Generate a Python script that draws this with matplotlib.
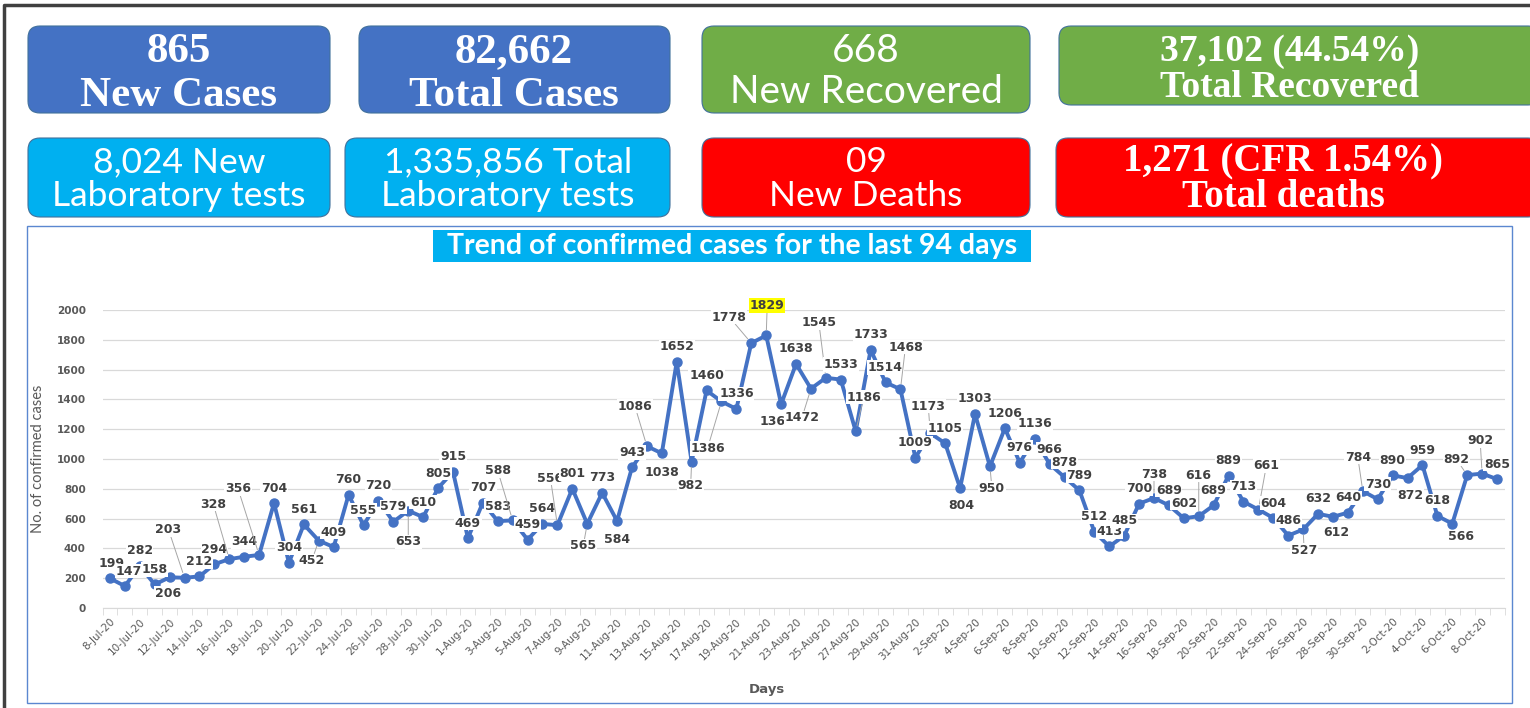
import matplotlib.pyplot as plt
from matplotlib.patches import FancyBboxPatch, Rectangle
import numpy as np
import pandas as pd

# daily new confirmed cases, 8-Jul-20 .. 9-Oct-20
new_cases = [199, 147, 282, 158, 206, 203, 212, 294, 328, 344,
             356, 704, 304, 561, 452, 409, 760, 555, 720, 579,
             653, 610, 805, 915, 469, 707, 583, 588, 459, 564,
             556, 801, 565, 773, 584, 943, 1086, 1038, 1652, 982,
             1460, 1386, 1336, 1778, 1829, 1368, 1638, 1472, 1545, 1533,
             1186, 1733, 1514, 1468, 1009, 1173, 1105, 804, 1303, 950,
             1206, 976, 1136, 966, 878, 789, 512, 413, 485, 700,
             738, 689, 602, 616, 689, 889, 713, 661, 604, 486,
             527, 632, 612, 640, 784, 730, 890, 872, 959, 618,
             566, 892, 902, 865]

days = pd.date_range("2020-07-08", periods=len(new_cases))
date_labels = [f"{d.day}-{d:%b}-20" for d in days]

yticks = list(range(0, 2001, 200))

# summary boxes: first line, second line
box_line1 = ["865", "82,662", "668", "37,102 (44.54%)",
             "8,024 New", "1,335,856 Total", "09", "1,271 (CFR 1.54%)"]
box_line2 = ["New Cases", "Total Cases", "New Recovered", "Total Recovered",
             "Laboratory tests", "Laboratory tests", "New Deaths", "Total deaths"]

title = "Trend of confirmed cases for the last 94 days"

# ---- layout / style (pixels of the 1530x708 picture) ----
W, H = 1530, 708
BLUE, GREEN, CYAN, RED = "#4472C4", "#70AD47", "#00B0F0", "#FF0000"
SERIF = "Liberation Serif"
SANS = "Lato"

boxes = [  # x0, y0, x1, y1, colour, font, bold, size, text-x, baseline1, baseline2
    (28, 26, 330, 113, BLUE, SERIF, True, 31, 179, 62, 106),
    (359, 26, 670, 113, BLUE, SERIF, True, 31, 514, 62, 106),
    (702, 26, 1030, 113, GREEN, SANS, False, 28, 866, 62, 103),
    (1059, 26, 1540, 105, GREEN, SERIF, True, 27, 1290, 61, 97),
    (28, 138, 330, 217, CYAN, SANS, False, 25.5, 179, 172, 206),
    (345, 138, 670, 217, CYAN, SANS, False, 25.5, 508, 172, 206),
    (702, 138, 1030, 217, RED, SANS, False, 25.5, 866, 172, 206),
    (1056, 138, 1540, 217, RED, SERIF, True, 28, 1283, 171, 207),
]

# data label offsets (dx, dy) in pixels, +dy = downwards; default is above
label_offsets = {
    0: (2, -15), 1: (4, -15),
    4: (-2, 16), 5: (-16, -48), 8: (-16, -55), 10: (-21, -66),
    14: (-7, 20), 20: (0, 31), 27: (-15, -50), 30: (-7, -47),
    32: (-4, 22), 34: (0, 19), 36: (-12, -40), 37: (0, 19),
    39: (-1, 24), 41: (-14, 47), 43: (-22, -26), 44: (1, -30),
    45: (-4, 17), 47: (-9, 29), 48: (-7, -55), 50: (8, -34),
    53: (5, -42), 55: (-2, -27), 57: (1, 17), 59: (2, 22),
    70: (0, -24), 73: (0, -41), 77: (8, -44), 80: (1, 21),
    82: (3, 16), 84: (-5, -34), 87: (3, 17), 90: (9, 13),
    91: (-11, -16), 92: (-2, -33),
}
leaders = {5, 8, 10, 14, 20, 27, 30, 32, 36, 39, 41, 43, 44, 47, 48,
           50, 53, 55, 59, 70, 73, 77, 80, 84, 91, 92}

fig = plt.figure(figsize=(W / 100, H / 100), dpi=100)

# background layer in pixel coordinates
bg = fig.add_axes([0, 0, 1, 1])
bg.set_xlim(0, W)
bg.set_ylim(H, 0)
bg.axis("off")

# outer frame lines
bg.plot([4, 4, W], [H, 5, 5], color="#404040", lw=2.5, solid_capstyle="butt")

for (x0, y0, x1, y1, col, font, bold, size, tx, b1, b2), l1, l2 in zip(boxes, box_line1, box_line2):
    bg.add_patch(FancyBboxPatch((x0, y0), x1 - x0, y1 - y0,
                                boxstyle="round,pad=0,rounding_size=12",
                                facecolor=col, edgecolor="#41719C", lw=0.8))
    weight = "bold" if bold else "normal"
    bg.text(tx, b1, l1, color="white", fontsize=size, family=font,
            fontweight=weight, ha="center", va="baseline")
    bg.text(tx, b2, l2, color="white", fontsize=size, family=font,
            fontweight=weight, ha="center", va="baseline")

# chart frame and title banner
bg.add_patch(Rectangle((27, 226), 1485, 477, facecolor="white",
                       edgecolor="#5B87D0", lw=1))
bg.add_patch(Rectangle((433, 230), 598, 32, facecolor=CYAN, edgecolor="none"))
bg.text(732, 246, title, color="white", fontsize=20.5, family=SANS,
        fontweight="bold", ha="center", va="center")

# line chart
ax = fig.add_axes([102.5 / W, 100 / H, 1402 / W, 298 / H])
ax.set_facecolor("none")
x = np.arange(len(new_cases))
ax.plot(x, new_cases, color=BLUE, lw=2.8, marker="o", ms=6.5, zorder=3)

ax.set_xlim(-0.5, len(new_cases) - 0.5)
ax.set_ylim(0, 2000)
ax.set_yticks(yticks)
ax.set_yticklabels([str(t) for t in yticks], fontsize=7.5, fontweight="bold",
                   color="#595959")
ax.tick_params(axis="y", length=0, pad=12)
ax.grid(axis="y", color="#D9D9D9", lw=0.9)
ax.set_axisbelow(True)
for s in ["top", "right", "left"]:
    ax.spines[s].set_visible(False)
ax.spines["bottom"].set_color("#D9D9D9")

ax.set_xticks(x[::2])
ax.set_xticklabels(date_labels[::2], rotation=45, ha="right",
                   rotation_mode="anchor", fontsize=7.5, color="#595959")
ax.set_xticks(np.arange(-0.5, len(new_cases), 1), minor=True)
ax.tick_params(axis="x", which="major", length=0, pad=6)
ax.tick_params(axis="x", which="minor", length=5, color="#D9D9D9")

ax.set_ylabel("No. of confirmed cases", fontsize=10.5, family=SANS, color="#595959")
ax.yaxis.set_label_coords(-0.041, 0.5)
ax.set_xlabel("Days", fontsize=9.5, fontweight="bold", color="#595959")
ax.xaxis.set_label_coords(0.474, -0.252)

# data labels sit on top of the line, on a white patch (Excel style)
peak = int(np.argmax(new_cases))
for i, v in enumerate(new_cases):
    dx, dy = label_offsets.get(i, (0, -15))
    face = "#FFFF00" if i == peak else "white"
    arrow = None
    if i in leaders:
        arrow = dict(arrowstyle="-", color="#A6A6A6", lw=0.7, shrinkA=0, shrinkB=4)
    ax.annotate(str(v), (i, v), xytext=(dx, -dy), textcoords="offset pixels",
                ha="center", va="center", fontsize=9, fontweight="bold",
                color="#404040", annotation_clip=False, zorder=4,
                bbox=dict(boxstyle="square,pad=0.05", facecolor=face, edgecolor="none"),
                arrowprops=arrow)

fig.savefig("out.png", dpi=100)
